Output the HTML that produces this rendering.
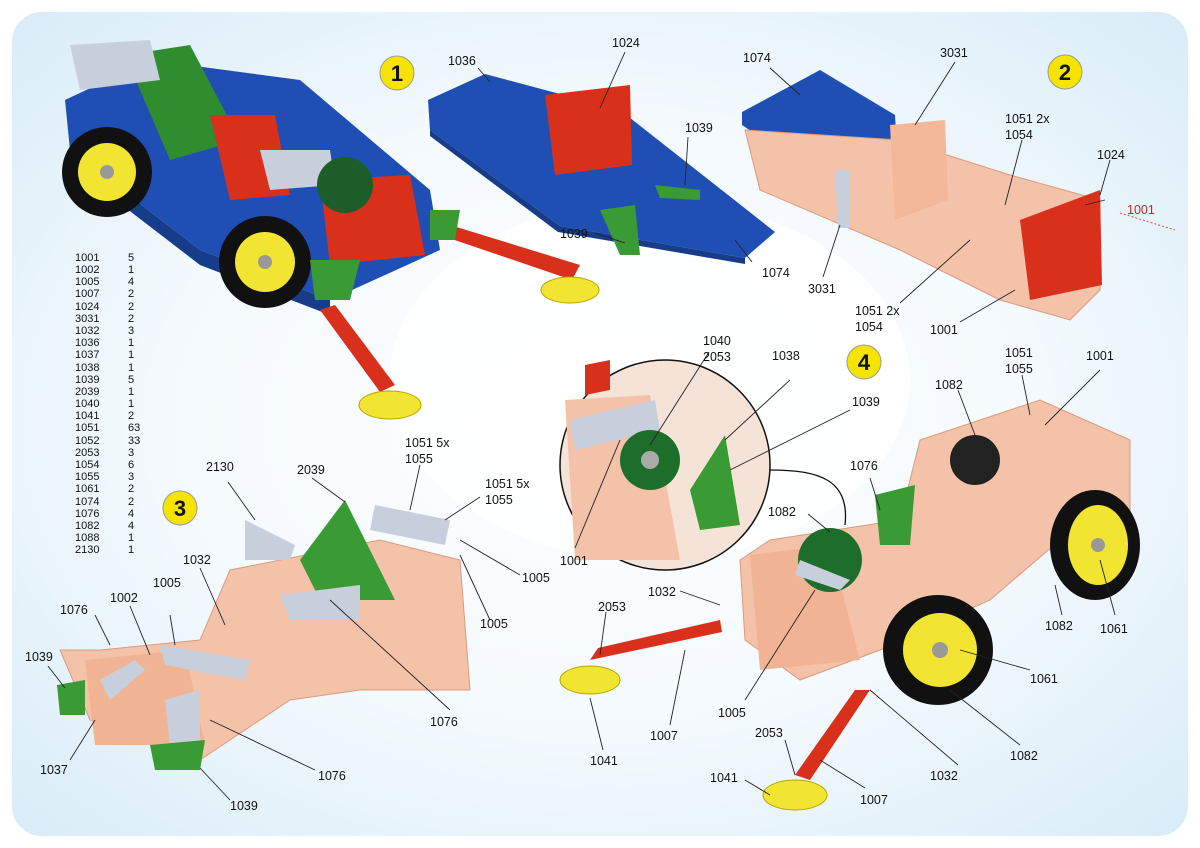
<!DOCTYPE html>
<html><head><meta charset="utf-8"><style>
html,body{margin:0;padding:0;width:1200px;height:848px;overflow:hidden;background:#fff}
svg text{font-family:"Liberation Sans",sans-serif;font-size:12.5px;fill:#111}
</style></head><body>
<svg width="1200" height="848" viewBox="0 0 1200 848" xmlns="http://www.w3.org/2000/svg">
<defs>
<radialGradient id="bg" cx="50%" cy="50%" r="70%">
<stop offset="0" stop-color="#ffffff"/><stop offset="0.55" stop-color="#f3f9fd"/><stop offset="1" stop-color="#d9ecf8"/>
</radialGradient>
</defs>
<rect width="1200" height="848" fill="#fff"/>
<rect x="12" y="12" width="1176" height="824" rx="30" fill="url(#bg)"/>
<ellipse cx="650" cy="380" rx="260" ry="180" fill="#fff" opacity="0.8"/>

<!-- Model 1 -->
<polygon points="65,100 150,60 300,80 430,190 440,250 330,300 200,250 70,150" fill="#1f4fb5"/>
<polygon points="70,150 200,250 330,300 330,315 200,265 70,165" fill="#163c8a"/>
<polygon points="125,55 190,45 240,140 170,160" fill="#2f8c2f"/>
<polygon points="210,115 275,115 290,195 230,200" fill="#d9301c"/>
<polygon points="320,180 410,175 425,255 330,265" fill="#d9301c"/>
<polygon points="70,45 150,40 160,80 80,90" fill="#c7cfdc"/>
<polygon points="260,150 330,150 335,185 270,190" fill="#c7cfdc"/>
<circle cx="107" cy="172" r="45" fill="#111"/><circle cx="107" cy="172" r="29" fill="#f1e531"/><circle cx="107" cy="172" r="7" fill="#999"/>
<circle cx="265" cy="262" r="46" fill="#111"/><circle cx="265" cy="262" r="30" fill="#f1e531"/><circle cx="265" cy="262" r="7" fill="#999"/>
<circle cx="345" cy="185" r="28" fill="#1c5e2a"/>
<polygon points="310,260 360,260 350,300 315,300" fill="#3a9a33"/>
<polygon points="320,310 335,305 395,385 380,392" fill="#d9301c"/>
<ellipse cx="390" cy="405" rx="31" ry="14" fill="#f1e531" stroke="#b9a600"/>
<polygon points="440,235 450,225 580,265 572,280" fill="#d9301c"/>
<ellipse cx="570" cy="290" rx="29" ry="13" fill="#f1e531" stroke="#b9a600"/>
<polygon points="430,210 460,210 455,240 430,240" fill="#3a9a33"/>

<!-- Plate 1 parts -->
<polygon points="428,100 485,74 620,110 775,232 745,258 560,226 430,130" fill="#1f4fb5"/>
<polygon points="430,130 560,226 745,258 745,264 558,232 430,136" fill="#163c8a"/>
<polygon points="545,95 630,85 632,165 555,175" fill="#d9301c"/>
<polygon points="655,185 700,190 700,200 660,198" fill="#3a9a33"/>
<polygon points="600,210 635,205 640,255 620,255" fill="#3a9a33"/>

<!-- Model 2 -->
<polygon points="742,112 820,70 895,115 900,200 860,205 742,125" fill="#1f4fb5"/>
<polygon points="745,130 900,140 1010,175 1100,200 1100,290 1070,320 1000,300 900,250 760,190" fill="#f4c2a8" stroke="#d99b80"/>
<polygon points="890,125 945,120 948,200 895,220" fill="#f2b899"/>
<polygon points="1020,220 1100,190 1102,285 1030,300" fill="#d9301c"/>
<polygon points="835,170 850,170 850,228 838,228" fill="#c7cfdc"/>

<!-- Model 3 -->
<polygon points="60,650 100,650 200,640 230,570 380,540 460,560 470,690 360,690 290,700 200,760 90,720" fill="#f4c2a8" stroke="#d99b80"/>
<polygon points="300,560 345,500 395,600 320,600" fill="#3a9a33"/>
<polygon points="375,505 450,520 445,545 370,530" fill="#c7cfdc"/>
<polygon points="245,520 295,545 290,560 245,560" fill="#c7cfdc"/>
<polygon points="280,595 360,585 360,620 290,620" fill="#c7cfdc"/>
<polygon points="85,660 185,650 205,745 95,745" fill="#f0b495"/>
<polygon points="100,680 135,660 145,670 110,700" fill="#c7cfdc"/>
<polygon points="165,700 200,690 200,740 170,745" fill="#c7cfdc"/>
<polygon points="57,685 85,680 85,715 60,715" fill="#3a9a33"/>
<polygon points="150,745 205,740 200,770 155,770" fill="#3a9a33"/>
<polygon points="160,645 250,660 245,680 165,665" fill="#c7cfdc"/>

<!-- Inset -->
<circle cx="665" cy="465" r="105" fill="#f6e3d8" stroke="#111" stroke-width="1.5"/>
<polygon points="565,400 650,395 680,560 575,560" fill="#f4c2a8"/>
<polygon points="570,420 655,400 660,430 575,450" fill="#c7cfdc"/>
<circle cx="650" cy="460" r="30" fill="#1d6e2b"/><circle cx="650" cy="460" r="9" fill="#aaa"/>
<polygon points="690,490 725,435 740,525 700,530" fill="#3a9a33"/>
<polygon points="585,365 610,360 610,390 585,395" fill="#d9301c"/>
<path d="M770 470 C820 470 850 480 845 525" fill="none" stroke="#111" stroke-width="1.3"/>

<!-- Model 4 -->
<polygon points="740,560 770,540 900,520 920,440 1040,400 1130,440 1130,520 1060,540 990,600 880,650 800,680 745,640" fill="#f4c2a8" stroke="#d99b80"/>
<polygon points="750,555 830,545 860,660 760,670" fill="#f0b495"/>
<circle cx="830" cy="560" r="32" fill="#1d6e2b"/>
<polygon points="875,495 915,485 910,545 880,545" fill="#3a9a33"/>
<polygon points="800,560 850,580 840,590 795,575" fill="#c7cfdc"/>
<circle cx="938" cy="650" r="55" fill="#111"/><circle cx="940" cy="650" r="37" fill="#f1e531"/><circle cx="940" cy="650" r="8" fill="#999"/>
<ellipse cx="1095" cy="545" rx="45" ry="55" fill="#111"/><ellipse cx="1098" cy="545" rx="30" ry="40" fill="#f1e531"/><circle cx="1098" cy="545" r="7" fill="#999"/>
<circle cx="975" cy="460" r="25" fill="#222"/>
<polygon points="590,660 598,648 720,620 722,632" fill="#d9301c"/>
<ellipse cx="590" cy="680" rx="30" ry="14" fill="#f1e531" stroke="#b9a600"/>
<polygon points="855,690 870,690 810,780 795,775" fill="#d9301c"/>
<ellipse cx="795" cy="795" rx="32" ry="15" fill="#f1e531" stroke="#b9a600"/>

<!-- Yellow circled numbers -->
<g font-weight="bold">
<circle cx="397" cy="73" r="17" fill="#f6e400" stroke="#999"/><text x="397" y="81" text-anchor="middle" style="font-size:22px;font-weight:bold">1</text>
<circle cx="1065" cy="72" r="17" fill="#f6e400" stroke="#999"/><text x="1065" y="80" text-anchor="middle" style="font-size:22px;font-weight:bold">2</text>
<circle cx="180" cy="508" r="17" fill="#f6e400" stroke="#999"/><text x="180" y="516" text-anchor="middle" style="font-size:22px;font-weight:bold">3</text>
<circle cx="864" cy="362" r="17" fill="#f6e400" stroke="#999"/><text x="864" y="370" text-anchor="middle" style="font-size:22px;font-weight:bold">4</text>
</g>

<!-- Parts list -->
<g style="font-size:11px">
<text x="75" y="261" style="font-size:11px">1001</text><text x="128" y="261" style="font-size:11px">5</text>
<text x="75" y="273" style="font-size:11px">1002</text><text x="128" y="273" style="font-size:11px">1</text>
<text x="75" y="285" style="font-size:11px">1005</text><text x="128" y="285" style="font-size:11px">4</text>
<text x="75" y="297" style="font-size:11px">1007</text><text x="128" y="297" style="font-size:11px">2</text>
<text x="75" y="310" style="font-size:11px">1024</text><text x="128" y="310" style="font-size:11px">2</text>
<text x="75" y="322" style="font-size:11px">3031</text><text x="128" y="322" style="font-size:11px">2</text>
<text x="75" y="334" style="font-size:11px">1032</text><text x="128" y="334" style="font-size:11px">3</text>
<text x="75" y="346" style="font-size:11px">1036</text><text x="128" y="346" style="font-size:11px">1</text>
<text x="75" y="358" style="font-size:11px">1037</text><text x="128" y="358" style="font-size:11px">1</text>
<text x="75" y="371" style="font-size:11px">1038</text><text x="128" y="371" style="font-size:11px">1</text>
<text x="75" y="383" style="font-size:11px">1039</text><text x="128" y="383" style="font-size:11px">5</text>
<text x="75" y="395" style="font-size:11px">2039</text><text x="128" y="395" style="font-size:11px">1</text>
<text x="75" y="407" style="font-size:11px">1040</text><text x="128" y="407" style="font-size:11px">1</text>
<text x="75" y="419" style="font-size:11px">1041</text><text x="128" y="419" style="font-size:11px">2</text>
<text x="75" y="431" style="font-size:11px">1051</text><text x="128" y="431" style="font-size:11px">63</text>
<text x="75" y="444" style="font-size:11px">1052</text><text x="128" y="444" style="font-size:11px">33</text>
<text x="75" y="456" style="font-size:11px">2053</text><text x="128" y="456" style="font-size:11px">3</text>
<text x="75" y="468" style="font-size:11px">1054</text><text x="128" y="468" style="font-size:11px">6</text>
<text x="75" y="480" style="font-size:11px">1055</text><text x="128" y="480" style="font-size:11px">3</text>
<text x="75" y="492" style="font-size:11px">1061</text><text x="128" y="492" style="font-size:11px">2</text>
<text x="75" y="505" style="font-size:11px">1074</text><text x="128" y="505" style="font-size:11px">2</text>
<text x="75" y="517" style="font-size:11px">1076</text><text x="128" y="517" style="font-size:11px">4</text>
<text x="75" y="529" style="font-size:11px">1082</text><text x="128" y="529" style="font-size:11px">4</text>
<text x="75" y="541" style="font-size:11px">1088</text><text x="128" y="541" style="font-size:11px">1</text>
<text x="75" y="553" style="font-size:11px">2130</text><text x="128" y="553" style="font-size:11px">1</text>
</g>

<!-- Leader lines -->
<g stroke="#222" stroke-width="0.9" fill="none">
<line x1="478" y1="68" x2="490" y2="82"/>
<line x1="625" y1="52" x2="600" y2="108"/>
<line x1="688" y1="137" x2="685" y2="185"/>
<line x1="595" y1="233" x2="625" y2="243"/>
<line x1="752" y1="262" x2="735" y2="240"/>
<line x1="770" y1="68" x2="800" y2="95"/>
<line x1="955" y1="62" x2="915" y2="125"/>
<line x1="1022" y1="140" x2="1005" y2="205"/>
<line x1="1110" y1="160" x2="1100" y2="195"/>
<line x1="823" y1="277" x2="840" y2="225"/>
<line x1="900" y1="303" x2="970" y2="240"/>
<line x1="960" y1="322" x2="1015" y2="290"/>
<line x1="1085" y1="205" x2="1105" y2="200"/>
<line x1="709" y1="352" x2="650" y2="445"/>
<line x1="790" y1="380" x2="725" y2="440"/>
<line x1="850" y1="410" x2="730" y2="470"/>
<line x1="575" y1="548" x2="620" y2="440"/>
<line x1="1022" y1="375" x2="1030" y2="415"/>
<line x1="1100" y1="370" x2="1045" y2="425"/>
<line x1="958" y1="390" x2="975" y2="435"/>
<line x1="870" y1="478" x2="880" y2="510"/>
<line x1="808" y1="514" x2="830" y2="532"/>
<line x1="1062" y1="615" x2="1055" y2="585"/>
<line x1="1115" y1="615" x2="1100" y2="560"/>
<line x1="1030" y1="670" x2="960" y2="650"/>
<line x1="1020" y1="745" x2="950" y2="690"/>
<line x1="958" y1="765" x2="870" y2="690"/>
<line x1="680" y1="591" x2="720" y2="605"/>
<line x1="606" y1="612" x2="600" y2="655"/>
<line x1="670" y1="725" x2="685" y2="650"/>
<line x1="603" y1="750" x2="590" y2="698"/>
<line x1="745" y1="700" x2="815" y2="590"/>
<line x1="865" y1="788" x2="820" y2="760"/>
<line x1="785" y1="740" x2="795" y2="775"/>
<line x1="745" y1="780" x2="770" y2="795"/>
<line x1="228" y1="482" x2="255" y2="520"/>
<line x1="312" y1="478" x2="345" y2="502"/>
<line x1="420" y1="465" x2="410" y2="510"/>
<line x1="480" y1="497" x2="445" y2="520"/>
<line x1="520" y1="575" x2="460" y2="540"/>
<line x1="490" y1="620" x2="460" y2="555"/>
<line x1="450" y1="710" x2="330" y2="600"/>
<line x1="200" y1="568" x2="225" y2="625"/>
<line x1="170" y1="615" x2="175" y2="645"/>
<line x1="130" y1="606" x2="150" y2="655"/>
<line x1="95" y1="615" x2="110" y2="645"/>
<line x1="48" y1="666" x2="65" y2="688"/>
<line x1="70" y1="760" x2="95" y2="720"/>
<line x1="230" y1="800" x2="200" y2="768"/>
<line x1="315" y1="770" x2="210" y2="720"/>
<line x1="1120" y1="213" x2="1175" y2="230" stroke="#d33" stroke-dasharray="2,2"/>
</g>

<!-- Labels -->
<text x="448" y="65">1036</text>
<text x="612" y="47">1024</text>
<text x="685" y="132">1039</text>
<text x="560" y="238">1039</text>
<text x="762" y="277">1074</text>
<text x="743" y="62">1074</text>
<text x="940" y="57">3031</text>
<text x="1005" y="123">1051 2x</text>
<text x="1005" y="139">1054</text>
<text x="1097" y="159">1024</text>
<text x="1127" y="214" style="fill:#d42020">1001</text>
<text x="808" y="293">3031</text>
<text x="855" y="315">1051 2x</text>
<text x="855" y="331">1054</text>
<text x="930" y="334">1001</text>
<text x="703" y="345">1040</text>
<text x="703" y="361">2053</text>
<text x="772" y="360">1038</text>
<text x="852" y="406">1039</text>
<text x="560" y="565">1001</text>
<text x="1005" y="357">1051</text>
<text x="1005" y="373">1055</text>
<text x="1086" y="360">1001</text>
<text x="935" y="389">1082</text>
<text x="850" y="470">1076</text>
<text x="768" y="516">1082</text>
<text x="1045" y="630">1082</text>
<text x="1100" y="633">1061</text>
<text x="1030" y="683">1061</text>
<text x="1010" y="760">1082</text>
<text x="930" y="780">1032</text>
<text x="648" y="596">1032</text>
<text x="598" y="611">2053</text>
<text x="650" y="740">1007</text>
<text x="590" y="765">1041</text>
<text x="718" y="717">1005</text>
<text x="755" y="737">2053</text>
<text x="860" y="804">1007</text>
<text x="710" y="782">1041</text>
<text x="206" y="471">2130</text>
<text x="297" y="474">2039</text>
<text x="405" y="447">1051 5x</text>
<text x="405" y="463">1055</text>
<text x="485" y="488">1051 5x</text>
<text x="485" y="504">1055</text>
<text x="522" y="582">1005</text>
<text x="480" y="628">1005</text>
<text x="430" y="726">1076</text>
<text x="183" y="564">1032</text>
<text x="153" y="587">1005</text>
<text x="110" y="602">1002</text>
<text x="60" y="614">1076</text>
<text x="25" y="661">1039</text>
<text x="40" y="774">1037</text>
<text x="230" y="810">1039</text>
<text x="318" y="780">1076</text>
</svg>
</body></html>
